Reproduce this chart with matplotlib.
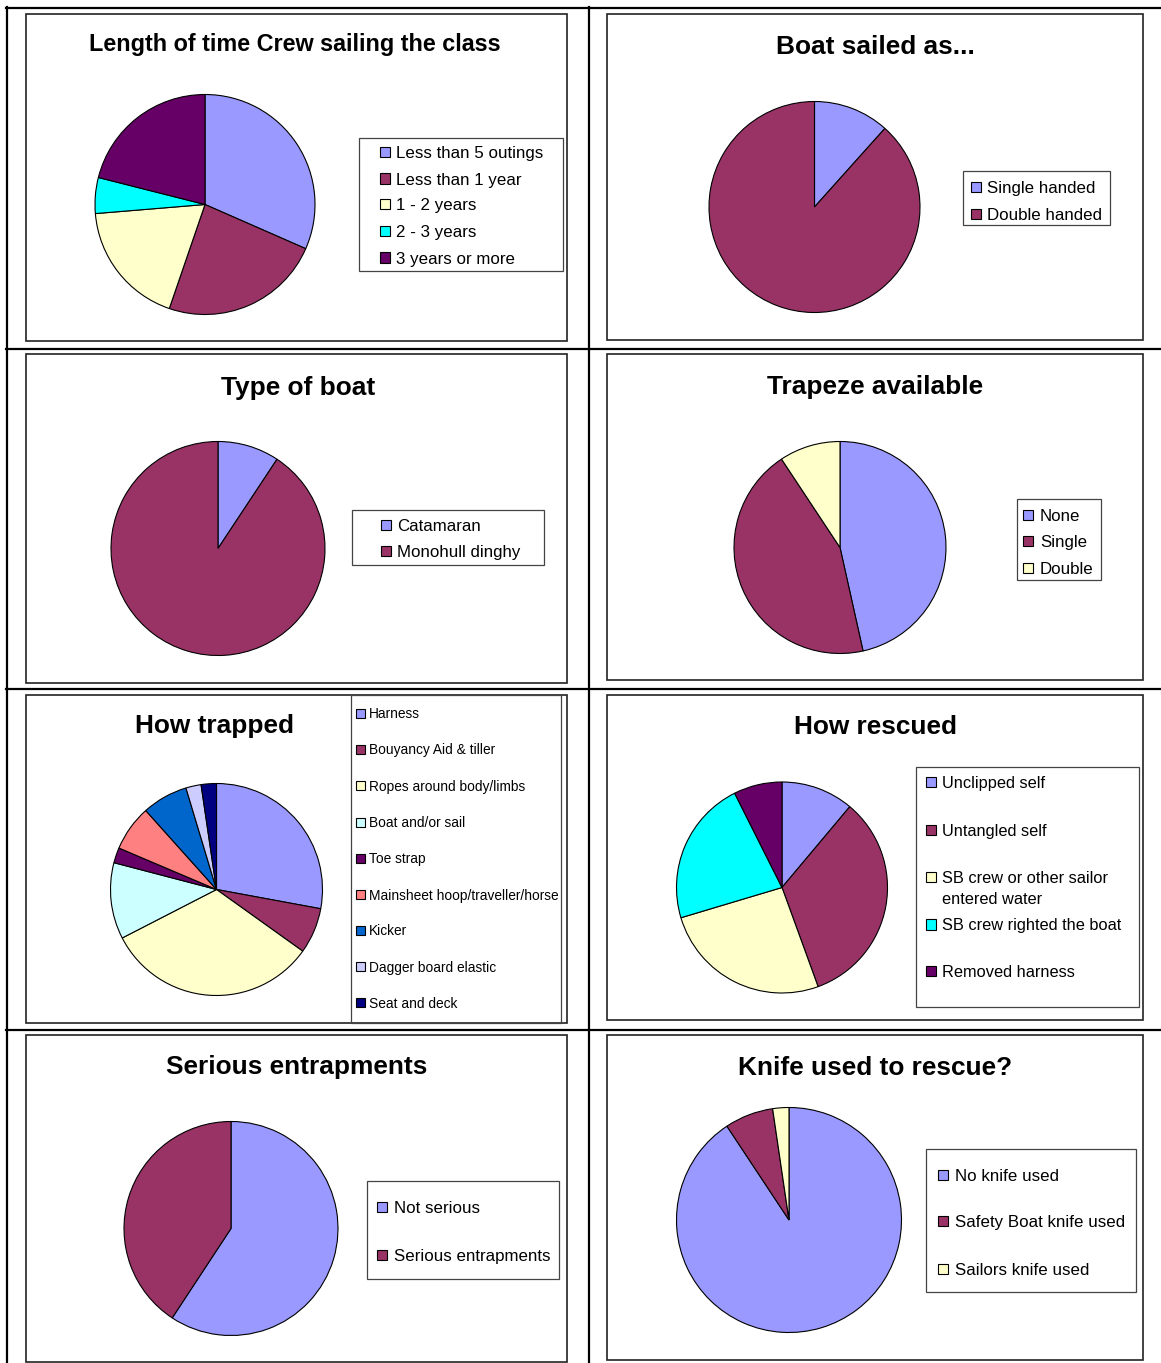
import matplotlib
matplotlib.use("Agg")
import matplotlib.pyplot as plt
from matplotlib.patches import Rectangle
from matplotlib.lines import Line2D

plt.rcParams['font.family'] = ['Liberation Sans', 'DejaVu Sans']

# ---- data (counts) ----
crew_labels = ['Less than 5 outings', 'Less than 1 year', '1 - 2 years', '2 - 3 years', '3 years or more']
crew_counts = [12, 9, 7, 2, 8]

sailed_labels = ['Single handed', 'Double handed']
sailed_counts = [5, 38]

boat_labels = ['Catamaran', 'Monohull dinghy']
boat_counts = [4, 39]

trapeze_labels = ['None', 'Single', 'Double']
trapeze_counts = [20, 19, 4]

trapped_labels = ['Harness', 'Bouyancy Aid & tiller', 'Ropes around body/limbs', 'Boat and/or sail',
                  'Toe strap', 'Mainsheet hoop/traveller/horse', 'Kicker', 'Dagger board elastic',
                  'Seat and deck']
trapped_counts = [12, 3, 14, 5, 1, 3, 3, 1, 1]

rescued_labels = ['Unclipped self', 'Untangled self', 'SB crew or other sailor\nentered water',
                  'SB crew righted the boat', 'Removed harness']
rescued_counts = [3, 9, 7, 6, 2]

serious_labels = ['Not serious', 'Serious entrapments']
serious_counts = [16, 11]

knife_labels = ['No knife used', 'Safety Boat knife used', 'Sailors knife used']
knife_counts = [39, 3, 1]

# excel-ish palettes
PAL = ['#9999FF', '#993366', '#FFFFCC', '#00FFFF', '#660066']
PAL_TRAP = ['#9999FF', '#993366', '#FFFFCC', '#CCFFFF', '#660066', '#FF8080', '#0066CC', '#CCCCFF', '#000080']

W, H = 1161, 1363
fig = plt.figure(figsize=(W / 100, H / 100), dpi=100)
fig.patch.set_facecolor('white')


def fx(x):
    return x / W


def fy(y):
    return 1 - y / H


def frame(x0, y0, x1, y1, color='#222222', lw=1.2):
    fig.add_artist(Rectangle((fx(x0), fy(y1)), (x1 - x0) / W, (y1 - y0) / H,
                             transform=fig.transFigure, fill=False,
                             edgecolor=color, linewidth=lw))


def pie(values, colors, cx, cy, r):
    pad = 1.02
    rr = r * pad
    ax = fig.add_axes([fx(cx - rr), fy(cy + rr), 2 * rr / W, 2 * rr / H])
    ax.pie(values, colors=colors, startangle=90, counterclock=False,
           wedgeprops=dict(edgecolor='black', linewidth=0.8))
    ax.set_xlim(-pad, pad)
    ax.set_ylim(-pad, pad)
    ax.axis('off')
    return ax


def title(text, cx, baseline, size=18.9):
    fig.text(fx(cx), fy(baseline), text, ha='center', va='baseline',
             fontsize=size, fontweight='bold')


def legend(labels, colors, mx, rows, tx, fs=12.2, msize=10, step=21.3):
    em = fs * 100 / 72
    for lab, col, yc in zip(labels, colors, rows):
        fig.add_artist(Rectangle((fx(mx), fy(yc + msize / 2)), msize / W, msize / H,
                                 transform=fig.transFigure, facecolor=col,
                                 edgecolor='black', linewidth=0.8))
        for i, line in enumerate(lab.split('\n')):
            fig.text(fx(tx), fy(yc + i * step + 0.36 * em), line,
                     ha='left', va='baseline', fontsize=fs)


# ---- table grid ----
for y in [8, 349, 689, 1030]:
    fig.add_artist(Line2D([fx(6), 1], [fy(y), fy(y)], transform=fig.transFigure,
                          color='black', linewidth=1.6))
for x in [7, 589]:
    fig.add_artist(Line2D([fx(x), fx(x)], [fy(7), 0], transform=fig.transFigure,
                          color='black', linewidth=1.6))

# ---- chart frames ----
frame(26, 14, 567, 341)
frame(607, 14, 1143, 340)
frame(26, 354, 567, 683)
frame(607, 354, 1143, 680)
frame(26, 695, 567, 1023)
frame(607, 695, 1143, 1020)
frame(26, 1035, 567, 1362)
frame(607, 1035, 1143, 1360)

# ---- 1: Length of time ----
title('Length of time Crew sailing the class', 294.5, 51, size=16.8)
pie(crew_counts, PAL, 205, 204.5, 110)
frame(359, 138, 563, 271, color='#444444', lw=0.9)
legend(crew_labels, PAL, 380, [152, 178.5, 204, 231, 257.5], 396)

# ---- 2: Boat sailed as ----
title('Boat sailed as...', 875.5, 54)
pie(sailed_counts, PAL[:2], 814.5, 207, 105.5)
frame(963, 171, 1110, 225, color='#444444', lw=0.9)
legend(sailed_labels, PAL[:2], 971, [187, 214], 987)

# ---- 3: Type of boat ----
title('Type of boat', 298, 395)
pie(boat_counts, PAL[:2], 218, 548.5, 107)
frame(352, 510, 544, 565, color='#444444', lw=0.9)
legend(boat_labels, PAL[:2], 381, [525, 551], 397)

# ---- 4: Trapeze ----
title('Trapeze available', 875.5, 394)
pie(trapeze_counts, PAL[:3], 840, 547.5, 106)
frame(1017, 499, 1101, 580, color='#444444', lw=0.9)
legend(trapeze_labels, PAL[:3], 1023, [515, 541, 568], 1040)

# ---- 5: How trapped ----
title('How trapped', 214.5, 733)
pie(trapped_counts, PAL_TRAP, 216.5, 889.5, 106)
frame(351, 695, 561, 1023, color='#444444', lw=0.9)
legend(trapped_labels, PAL_TRAP, 356, [713.3, 749.5, 785.7, 822, 858.5, 894.7, 930.5, 966.7, 1002.7],
       369, fs=9.9, msize=9)

# ---- 6: How rescued ----
title('How rescued', 876, 734)
pie(rescued_counts, PAL, 782, 887.5, 105.5)
frame(916, 767, 1139, 1007, color='#444444', lw=0.9)
legend(rescued_labels, PAL, 925.5, [782, 830, 877, 924.3, 971], 942.5, fs=11.8, msize=10.5)

# ---- 7: Serious entrapments ----
title('Serious entrapments', 296.5, 1074)
pie(serious_counts, PAL[:2], 231, 1228.5, 107)
frame(367, 1181, 559, 1279, color='#444444', lw=0.9)
legend(serious_labels, PAL[:2], 377, [1207, 1255], 394)

# ---- 8: Knife ----
title('Knife used to rescue?', 875, 1075)
pie(knife_counts, PAL[:3], 789, 1220, 112.5)
frame(925.5, 1149, 1136, 1292, color='#444444', lw=0.9)
legend(knife_labels, PAL[:3], 937.5, [1174.5, 1221, 1268.5], 955)

fig.savefig('out.png', dpi=100, facecolor='white')
